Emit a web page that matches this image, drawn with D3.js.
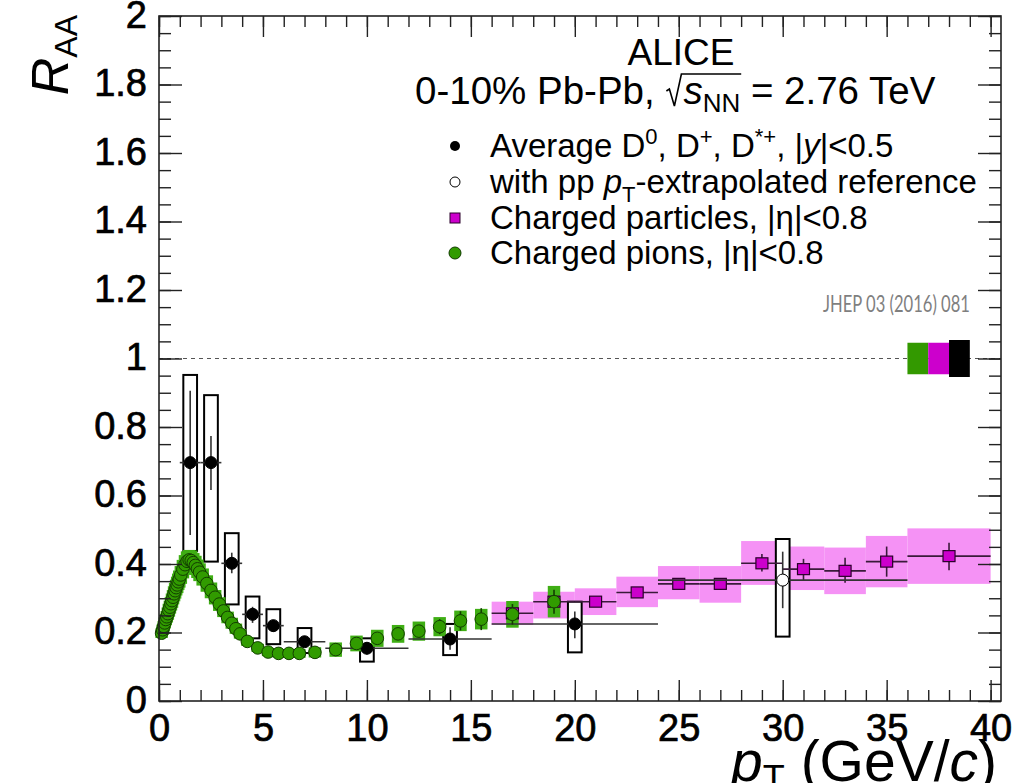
<!DOCTYPE html>
<html>
<head>
<meta charset="utf-8">
<script src="https://cdn.jsdelivr.net/npm/d3@7"></script>
<style>
  html, body { margin: 0; padding: 0; background: #fff; }
  svg { display: block; }
</style>
</head>
<body>
<svg id="chart" width="1012" height="783"></svg>
<script>
// ---------- D-meson average (0-10% Pb-Pb, 2.76 TeV) ----------
const dPt      = [1.5, 2.5, 3.5, 4.5, 5.5, 7, 10, 14, 20];
const dBinLo   = [1, 2, 3, 4, 5, 6, 8, 12, 16];
const dBinHi   = [2, 3, 4, 5, 6, 8, 12, 16, 24];
const dVal     = [0.696, 0.696, 0.402, 0.253, 0.220, 0.173, 0.154, 0.181, 0.225];
const dStatLo  = [0.485, 0.616, 0.373, 0.228, 0.202, 0.159, 0.136, 0.150, 0.183];
const dStatHi  = [0.906, 0.774, 0.433, 0.275, 0.236, 0.188, 0.172, 0.215, 0.261];
const dSysLo   = [0.438, 0.407, 0.282, 0.183, 0.166, 0.140, 0.115, 0.134, 0.142];
const dSysHi   = [0.952, 0.893, 0.490, 0.305, 0.268, 0.213, 0.183, 0.225, 0.290];

// D mesons with pT-extrapolated pp reference
const dExtPt     = [30];
const dExtBinLo  = [24];
const dExtBinHi  = [36];
const dExtVal    = [0.353];
const dExtStatLo = [0.271];
const dExtStatHi = [0.436];
const dExtSysLo  = [0.188];
const dExtSysHi  = [0.473];

// ---------- Charged particles, |eta|<0.8 ----------
const chPt     = [17, 19, 21, 23, 25, 27, 29, 31, 33, 35, 38];
const chBinLo  = [16, 18, 20, 22, 24, 26, 28, 30, 32, 34, 36];
const chBinHi  = [18, 20, 22, 24, 26, 28, 30, 32, 34, 36, 40];
const chVal    = [0.256, 0.290, 0.290, 0.317, 0.342, 0.342, 0.402, 0.385, 0.380, 0.407, 0.423];
const chStatLo = [0.245, 0.278, 0.280, 0.305, 0.327, 0.325, 0.378, 0.353, 0.345, 0.363, 0.382];
const chStatHi = [0.267, 0.302, 0.300, 0.329, 0.357, 0.359, 0.429, 0.415, 0.418, 0.451, 0.462];
const chSysLo  = [0.222, 0.241, 0.251, 0.274, 0.297, 0.287, 0.339, 0.324, 0.312, 0.332, 0.342];
const chSysHi  = [0.290, 0.319, 0.329, 0.363, 0.394, 0.394, 0.467, 0.451, 0.448, 0.482, 0.504];

// ---------- Charged pions, |eta|<0.8 ----------
const piPt = [
  0.125, 0.175, 0.225, 0.275, 0.325, 0.375, 0.425, 0.475, 0.525, 0.575, 0.625, 0.675,
  0.725, 0.775, 0.825, 0.875, 0.925, 0.975,
  1.05, 1.15, 1.25, 1.35, 1.45, 1.55, 1.65, 1.75, 1.85, 1.95,
  2.1, 2.3, 2.5, 2.7, 2.9, 3.1, 3.3, 3.5, 3.7, 3.9,
  4.25, 4.75, 5.25, 5.75, 6.25, 6.75,
  7.5, 8.5, 9.5, 10.5, 11.5, 12.5, 13.5, 14.5, 15.5,
  17, 19
];
const piVal = [
  0.198, 0.208, 0.218, 0.228, 0.238, 0.246, 0.255, 0.265, 0.274, 0.284, 0.293, 0.303,
  0.313, 0.322, 0.331, 0.339, 0.348, 0.356,
  0.368, 0.385, 0.398, 0.408, 0.412, 0.410, 0.404, 0.396, 0.386, 0.376,
  0.362, 0.343, 0.323, 0.303, 0.283, 0.263, 0.244, 0.227, 0.211, 0.196,
  0.174, 0.155, 0.143, 0.139, 0.139, 0.139,
  0.142, 0.150, 0.168, 0.183, 0.196, 0.204, 0.217, 0.234, 0.239,
  0.253, 0.290
];
const piStat = [
  0.002, 0.002, 0.002, 0.002, 0.002, 0.002, 0.002, 0.002, 0.002, 0.002, 0.002, 0.002,
  0.002, 0.002, 0.002, 0.002, 0.002, 0.002,
  0.002, 0.002, 0.002, 0.002, 0.002, 0.002, 0.002, 0.002, 0.002, 0.002,
  0.002, 0.002, 0.002, 0.002, 0.002, 0.002, 0.002, 0.002, 0.002, 0.003,
  0.003, 0.003, 0.003, 0.004, 0.004, 0.004,
  0.005, 0.008, 0.010, 0.012, 0.014, 0.018, 0.022, 0.028, 0.032,
  0.030, 0.035
];
const piSys = [
  0.014, 0.015, 0.015, 0.016, 0.017, 0.017, 0.018, 0.019, 0.019, 0.020, 0.021, 0.021,
  0.022, 0.023, 0.023, 0.024, 0.024, 0.025,
  0.026, 0.027, 0.028, 0.029, 0.029, 0.029, 0.028, 0.028, 0.027, 0.026,
  0.025, 0.024, 0.023, 0.021, 0.020, 0.018, 0.017, 0.016, 0.015, 0.014,
  0.013, 0.012, 0.012, 0.012, 0.013, 0.013,
  0.015, 0.021, 0.023, 0.025, 0.026, 0.028, 0.028, 0.030, 0.030,
  0.039, 0.046
];

// Normalisation uncertainties drawn at R_AA = 1
const normLabels = ["pions", "charged", "D"];
const normLo  = [36, 37, 38];
const normHi  = [37, 38, 39];
const normErr = [0.046, 0.046, 0.054];

// Axis ticks
const xMajor = [0, 5, 10, 15, 20, 25, 30, 35, 40];
const xMinor = d3.range(0, 41, 1);
const yMajor = [0, 0.2, 0.4, 0.6, 0.8, 1, 1.2, 1.4, 1.6, 1.8, 2];
const yMinor = d3.range(0, 41, 1).map(i => i * 0.05);

// ---------- Drawing ----------
const FONT = "'Liberation Sans', Arial, Helvetica, sans-serif";
const COL = {
  piFill: "#319b00", piStroke: "#123d00", piBox: "#3fae14",
  chFill: "#cc00cc", chStroke: "#2a002a", chBox: "#f592f5",
  normGreen: "#339900", normMag: "#cc00cc", normBlack: "#000000"
};

const svg = d3.select("#chart");
const x = d3.scaleLinear().domain([0, 40.5]).range([159, 1001]);
const y = d3.scaleLinear().domain([0, 2]).range([701, 16]);

const plot = svg.append("g");
const boxHalf = 0.33;          // half-width of systematic boxes, GeV/c

// unity reference line
plot.append("line")
  .attr("x1", x(0)).attr("x2", x(40.5))
  .attr("y1", y(1)).attr("y2", y(1))
  .attr("stroke", "#555").attr("stroke-width", 1.2)
  .attr("stroke-dasharray", "4,4");

// charged-particle systematic bands
const chIdx = d3.range(chPt.length);
plot.append("g").selectAll("rect").data(chIdx).join("rect")
  .attr("x", i => x(chBinLo[i]))
  .attr("width", i => x(chBinHi[i]) - x(chBinLo[i]))
  .attr("y", i => y(chSysHi[i]))
  .attr("height", i => y(chSysLo[i]) - y(chSysHi[i]))
  .attr("fill", COL.chBox);

// D-meson systematic boxes (open)
const dIdx = d3.range(dPt.length);
const dAll = dIdx.map(i => ({pt: dPt[i], lo: dBinLo[i], hi: dBinHi[i], v: dVal[i],
  sl: dStatLo[i], sh: dStatHi[i], yl: dSysLo[i], yh: dSysHi[i], open: false}))
  .concat(dExtPt.map((p, i) => ({pt: p, lo: dExtBinLo[i], hi: dExtBinHi[i], v: dExtVal[i],
  sl: dExtStatLo[i], sh: dExtStatHi[i], yl: dExtSysLo[i], yh: dExtSysHi[i], open: true})));

plot.append("g").selectAll("rect").data(dAll).join("rect")
  .attr("x", d => x(d.pt - boxHalf))
  .attr("width", d => x(d.pt + boxHalf) - x(d.pt - boxHalf))
  .attr("y", d => y(d.yh))
  .attr("height", d => y(d.yl) - y(d.yh))
  .attr("fill", "#fff").attr("stroke", "#000").attr("stroke-width", 2);

// pion systematic boxes
const piIdx = d3.range(piPt.length);
plot.append("g").selectAll("rect").data(piIdx).join("rect")
  .attr("x", i => x(piPt[i] - 0.3))
  .attr("width", i => x(piPt[i] + 0.3) - x(piPt[i] - 0.3))
  .attr("y", i => y(piVal[i] + piSys[i]))
  .attr("height", i => y(piVal[i] - piSys[i]) - y(piVal[i] + piSys[i]))
  .attr("fill", COL.piBox);

// normalisation boxes
const normFill = [COL.normGreen, COL.normMag, COL.normBlack];
plot.append("g").selectAll("rect").data(normLabels).join("rect")
  .attr("x", (d, i) => x(normLo[i]))
  .attr("width", (d, i) => x(normHi[i]) - x(normLo[i]))
  .attr("y", (d, i) => y(1 + normErr[i]))
  .attr("height", (d, i) => y(1 - normErr[i]) - y(1 + normErr[i]))
  .attr("fill", (d, i) => normFill[i]);

// charged particles: bin-width and stat bars, markers
const chG = plot.append("g");
chG.selectAll("line.xe").data(chIdx).join("line").attr("class", "xe")
  .attr("x1", i => x(chBinLo[i])).attr("x2", i => x(chBinHi[i]))
  .attr("y1", i => y(chVal[i])).attr("y2", i => y(chVal[i]))
  .attr("stroke", "#3a1a3a").attr("stroke-width", 1.6);
chG.selectAll("line.ye").data(chIdx).join("line").attr("class", "ye")
  .attr("x1", i => x(chPt[i])).attr("x2", i => x(chPt[i]))
  .attr("y1", i => y(chStatLo[i])).attr("y2", i => y(chStatHi[i]))
  .attr("stroke", "#3a1a3a").attr("stroke-width", 1.6);
chG.selectAll("rect").data(chIdx).join("rect")
  .attr("x", i => x(chPt[i]) - 6).attr("y", i => y(chVal[i]) - 5.5)
  .attr("width", 12).attr("height", 11)
  .attr("fill", COL.chFill).attr("stroke", COL.chStroke).attr("stroke-width", 1.2);

// D mesons: bin-width and stat bars, markers
const dG = plot.append("g");
dG.selectAll("line.xe").data(dAll).join("line").attr("class", "xe")
  .attr("x1", d => x(d.lo)).attr("x2", d => x(d.hi))
  .attr("y1", d => y(d.v)).attr("y2", d => y(d.v))
  .attr("stroke", "#333").attr("stroke-width", 1.6);
dG.selectAll("line.ye").data(dAll).join("line").attr("class", "ye")
  .attr("x1", d => x(d.pt)).attr("x2", d => x(d.pt))
  .attr("y1", d => y(d.sl)).attr("y2", d => y(d.sh))
  .attr("stroke", "#333").attr("stroke-width", 1.6);
dG.selectAll("circle").data(dAll).join("circle")
  .attr("cx", d => x(d.pt)).attr("cy", d => y(d.v)).attr("r", 6)
  .attr("fill", d => d.open ? "#fff" : "#000")
  .attr("stroke", "#000").attr("stroke-width", 1);

// pions: stat bars and markers
const piG = plot.append("g");
piG.selectAll("line").data(piIdx).join("line")
  .attr("x1", i => x(piPt[i])).attr("x2", i => x(piPt[i]))
  .attr("y1", i => y(piVal[i] - piStat[i])).attr("y2", i => y(piVal[i] + piStat[i]))
  .attr("stroke", "#123d00").attr("stroke-width", 1.6);
piG.selectAll("circle").data(piIdx).join("circle")
  .attr("cx", i => x(piPt[i])).attr("cy", i => y(piVal[i])).attr("r", 6.3)
  .attr("fill", COL.piFill).attr("stroke", COL.piStroke).attr("stroke-width", 1);

// ---------- Frame and axes ----------
const axisCol = "#222";
function styleAxis(g) {
  g.select(".domain").remove();
  g.selectAll(".tick line").attr("stroke", axisCol).attr("stroke-width", 1.4);
  g.selectAll(".tick text").attr("fill", "#000")
    .attr("stroke", "#000").attr("stroke-width", 0.7)
    .style("font-family", FONT).style("font-size", "38px");
}

// bottom
svg.append("g").attr("transform", `translate(0,${y(0)})`)
  .call(d3.axisBottom(x).tickValues(xMinor).tickSize(-11).tickFormat(""))
  .call(styleAxis);
svg.append("g").attr("transform", `translate(0,${y(0)})`)
  .call(d3.axisBottom(x).tickValues(xMajor).tickSize(-21).tickPadding(13).tickFormat(d3.format("d")))
  .call(styleAxis);
// top
svg.append("g").attr("transform", `translate(0,${y(2)})`)
  .call(d3.axisTop(x).tickValues(xMinor).tickSize(-11).tickFormat(""))
  .call(styleAxis);
svg.append("g").attr("transform", `translate(0,${y(2)})`)
  .call(d3.axisTop(x).tickValues(xMajor).tickSize(-21).tickFormat(""))
  .call(styleAxis);
// left
svg.append("g").attr("transform", `translate(${x(0)},0)`)
  .call(d3.axisLeft(y).tickValues(yMinor).tickSize(-12).tickFormat(""))
  .call(styleAxis);
const yFmt = v => v === 0 ? "0" : (Number.isInteger(v) ? String(v) : v.toFixed(1));
svg.append("g").attr("transform", `translate(${x(0)},0)`)
  .call(d3.axisLeft(y).tickValues(yMajor).tickSize(-23).tickPadding(12).tickFormat(yFmt))
  .call(styleAxis)
  .call(g => g.selectAll(".tick text").attr("dy", "0.3em"));
// right
svg.append("g").attr("transform", `translate(${x(40.5)},0)`)
  .call(d3.axisRight(y).tickValues(yMinor).tickSize(-12).tickFormat(""))
  .call(styleAxis);
svg.append("g").attr("transform", `translate(${x(40.5)},0)`)
  .call(d3.axisRight(y).tickValues(yMajor).tickSize(-23).tickFormat(""))
  .call(styleAxis);

svg.append("rect")
  .attr("x", x(0)).attr("y", y(2))
  .attr("width", x(40.5) - x(0)).attr("height", y(0) - y(2))
  .attr("fill", "none").attr("stroke", axisCol).attr("stroke-width", 1.6);

// ---------- Axis titles ----------
const yTitle = svg.append("text")
  .attr("transform", "translate(68,15) rotate(-90)")
  .attr("text-anchor", "end")
  .style("font-family", FONT).style("font-size", "52px");
yTitle.append("tspan").attr("font-style", "italic").text("R");
yTitle.append("tspan").attr("font-size", "32px").attr("dy", 9).text("AA");

const xTitle = svg.append("text")
  .attr("x", 997).attr("y", 781)
  .attr("text-anchor", "end")
  .style("font-family", FONT).style("font-size", "57px");
xTitle.append("tspan").attr("font-style", "italic").text("p");
xTitle.append("tspan").attr("font-size", "36px").attr("dy", 10).text("T");
xTitle.append("tspan").attr("dy", -10).text(" (GeV/");
xTitle.append("tspan").attr("font-style", "italic").text("c");
xTitle.append("tspan").text(")");

// ---------- Legend ----------
const leg = svg.append("g").style("font-family", FONT).attr("fill", "#000");

leg.append("text").attr("x", 681).attr("y", 65).attr("text-anchor", "middle")
  .style("font-size", "37px").text("ALICE");

// collision system line; the radical sign is drawn as a path
const sysY = 104, sysFs = 38.5, radW = 18;
const sys = leg.append("text").attr("x", 415).attr("y", sysY).style("font-size", sysFs + "px");
sys.append("tspan").text("0-10% Pb-Pb, ");
sys.append("tspan").attr("font-style", "italic").attr("dx", radW).text("s");
sys.append("tspan").attr("font-size", "26px").attr("dy", 8).text("NN");
sys.append("tspan").attr("dy", -8).text(" = 2.76 TeV");
{
  const node = sys.node();
  const r0 = node.getEndPositionOfChar(12).x + 1;
  const xEnd = node.getEndPositionOfChar(15).x + 1;
  const top = sysY - 30;
  const path = d3.path();
  path.moveTo(r0, sysY - 13);
  path.lineTo(r0 + 3, sysY - 15);
  path.lineTo(r0 + 8, sysY + 2);
  path.lineTo(r0 + 15, top);
  path.lineTo(xEnd, top);
  leg.append("path").attr("d", path.toString())
    .attr("fill", "none").attr("stroke", "#000").attr("stroke-width", 1.6)
    .attr("stroke-linejoin", "miter");
}

const rowX = 490, mkX = 455, rowFs = "33px", supFs = "22px";
const rowY = [157, 193, 229, 264];

// row 1: D average
leg.append("circle").attr("cx", mkX).attr("cy", rowY[0] - 11).attr("r", 5).attr("fill", "#000");
const r1 = leg.append("text").attr("x", rowX).attr("y", rowY[0]).style("font-size", rowFs);
r1.append("tspan").text("Average D");
r1.append("tspan").attr("font-size", supFs).attr("dy", -13).text("0");
r1.append("tspan").attr("dy", 13).text(", D");
r1.append("tspan").attr("font-size", supFs).attr("dy", -13).text("+");
r1.append("tspan").attr("dy", 13).text(", D");
r1.append("tspan").attr("font-size", supFs).attr("dy", -13).text("*+");
r1.append("tspan").attr("dy", 13).text(", |");
r1.append("tspan").attr("font-style", "italic").text("y");
r1.append("tspan").text("|<0.5");

// row 2: extrapolated reference
leg.append("circle").attr("cx", mkX).attr("cy", rowY[1] - 11).attr("r", 5)
  .attr("fill", "#fff").attr("stroke", "#000").attr("stroke-width", 1);
const r2 = leg.append("text").attr("x", rowX).attr("y", rowY[1]).style("font-size", rowFs);
r2.append("tspan").text("with pp ");
r2.append("tspan").attr("font-style", "italic").text("p");
r2.append("tspan").attr("font-size", supFs).attr("dy", 9).text("T");
r2.append("tspan").attr("dy", -9).text("-extrapolated reference");

// row 3: charged particles
leg.append("rect").attr("x", mkX - 5).attr("y", rowY[2] - 16).attr("width", 10).attr("height", 10)
  .attr("fill", COL.chFill).attr("stroke", COL.chStroke).attr("stroke-width", 1);
leg.append("text").attr("x", rowX).attr("y", rowY[2]).style("font-size", rowFs)
  .text("Charged particles, |\u03B7|<0.8");

// row 4: charged pions
leg.append("circle").attr("cx", mkX).attr("cy", rowY[3] - 11).attr("r", 6)
  .attr("fill", COL.piFill).attr("stroke", COL.piStroke).attr("stroke-width", 1);
leg.append("text").attr("x", rowX).attr("y", rowY[3]).style("font-size", rowFs)
  .text("Charged pions, |\u03B7|<0.8");

// publication reference
svg.append("text").attr("x", 823).attr("y", 312)
  .attr("textLength", 147).attr("lengthAdjust", "spacingAndGlyphs")
  .style("font-family", "Lato, 'Open Sans', sans-serif").style("font-size", "24px")
  .attr("fill", "#7f7f7f").text("JHEP 03 (2016) 081");
</script>
</body>
</html>
